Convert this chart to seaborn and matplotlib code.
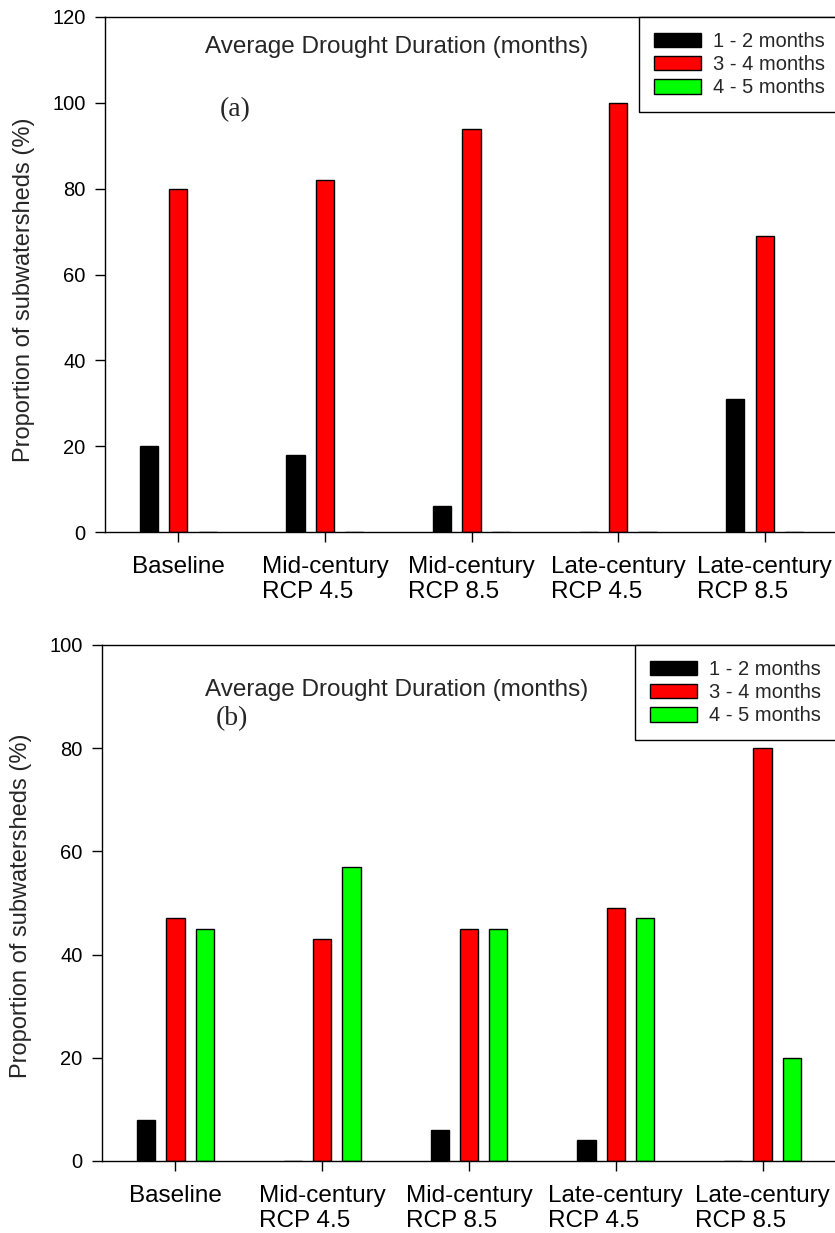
import pandas as pd
import matplotlib
matplotlib.use("Agg")
import matplotlib.pyplot as plt
import seaborn as sns

# scenario categories (x axis)
scenarios = ["Baseline", "Mid-century\nRCP 4.5", "Mid-century\nRCP 8.5",
             "Late-century\nRCP 4.5", "Late-century\nRCP 8.5"]
durations = ["1 - 2 months", "3 - 4 months", "4 - 5 months"]

# panel (a) values, % of subwatersheds
a_1to2 = [20, 18, 6, 0, 31]
a_3to4 = [80, 82, 94, 100, 69]
a_4to5 = [0, 0, 0, 0, 0]

# panel (b) values, % of subwatersheds
b_1to2 = [8, 0, 6, 4, 0]
b_3to4 = [47, 43, 45, 49, 80]
b_4to5 = [45, 57, 45, 47, 20]

colors = ["#000000", "#FF0000", "#00FF00"]


def long_table(s1, s2, s3):
    rows = []
    for dur, vals in zip(durations, [s1, s2, s3]):
        for sc, v in zip(scenarios, vals):
            rows.append({"Scenario": sc, "Duration": dur, "Value": v})
    return pd.DataFrame(rows)


sns.set_style("ticks")
plt.rcParams["font.family"] = ["Liberation Sans", "DejaVu Sans"]

fig = plt.figure(figsize=(8.35, 12.33), dpi=100)
# axes run a little past the right edge (the original figure is cropped there)
ax_a = fig.add_axes([105 / 835, (1233 - 532) / 1233, 733 / 835, 515 / 1233])
ax_b = fig.add_axes([102 / 835, (1233 - 1161) / 1233, 734 / 835, 516 / 1233])

panels = [
    (ax_a, long_table(a_1to2, a_3to4, a_4to5), 120, "(a)", 113, 98.5, 0.47, 1.49, 0.39),
    (ax_b, long_table(b_1to2, b_3to4, b_4to5), 100, "(b)", 91.3, 85.8, 0.495, 1.505, 0.385),
]

for ax, df, ymax, tag, title_y, tag_y, ylab_y, title_x, tag_x in panels:
    sns.barplot(data=df, x="Scenario", y="Value", hue="Duration",
                hue_order=durations, palette=colors, saturation=1,
                width=0.6, gap=0.38, edgecolor="black", linewidth=1.0, ax=ax)
    ax.set_xlim(-0.5, 4.5)
    ax.set_ylim(0, ymax)
    ax.set_yticks(range(0, ymax + 1, 20))
    ax.set_xlabel("")
    ax.set_ylabel("Proportion of subwatersheds (%)", fontsize=17)
    ax.yaxis.set_label_coords(-0.096, ylab_y)
    for sp in ["left", "bottom", "top"]:
        ax.spines[sp].set_visible(True)
        ax.spines[sp].set_color("black")
        ax.spines[sp].set_linewidth(1.0)
    ax.spines["right"].set_visible(False)
    ax.tick_params(axis="y", direction="out", length=7, width=1, pad=7,
                   labelsize=14.5, colors="black")
    ax.tick_params(axis="x", direction="out", length=7, width=1, pad=10,
                   labelsize=17.5, colors="black")
    for lbl in ax.get_xticklabels():
        lbl.set_multialignment("left")
        lbl.set_linespacing(1.2)

    ax.text(title_x, title_y, "Average Drought Duration (months)", fontsize=17.5,
            ha="center", va="center")
    ax.text(tag_x, tag_y, tag, fontsize=20, ha="center", va="center",
            family=["Liberation Serif", "DejaVu Serif"])

    handles, labels = ax.get_legend_handles_labels()
    if tag == "(a)":
        lx = (639 - 105) / 733
    else:
        lx = (635 - 102) / 734
    ax.legend(handles, labels, loc="upper left", bbox_to_anchor=(lx, 1.0),
              frameon=True, fancybox=False, edgecolor="black", framealpha=1,
              fontsize=14.5, handlelength=2.35, handleheight=0.75,
              handletextpad=0.55, labelspacing=0.2, borderpad=0.75,
              borderaxespad=0)
    ax.get_legend().get_frame().set_linewidth(1.0)

fig.savefig("out.png", dpi=100)
